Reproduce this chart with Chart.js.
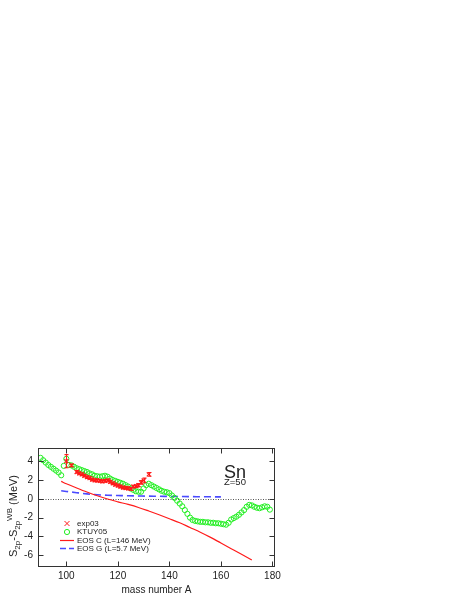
<!DOCTYPE html>
<html><head><meta charset="utf-8">
<style>html,body{margin:0;padding:0;background:#fff;}canvas{display:block;}</style>
<script src="https://cdn.jsdelivr.net/npm/chart.js@4"></script>
</head><body>
<canvas id="c" width="463" height="599"></canvas>
<script>
// ---- data ----
const xTicks = [100, 120, 140, 160, 180];
const yTicks = [-6, -4, -2, 0, 2, 4];
const seriesLabels = ['exp03', 'KTUY05', 'EOS C (L=146 MeV)', 'EOS G (L=5.7 MeV)'];

const ktuyA = [90,91,92,93,94,95,96,97,98,99,100,101,102,103,104,105,106,107,108,109,110,111,112,113,114,115,116,117,118,119,120,121,122,123,124,125,126,127,128,129,130,131,132,133,134,135,136,137,138,139,140,141,142,143,144,145,146,147,148,149,150,151,152,153,154,155,156,157,158,159,160,161,162,163,164,165,166,167,168,169,170,171,172,173,174,175,176,177,178,179];
const ktuyVal = [4.35,4.1,3.85,3.6,3.4,3.2,3.0,2.8,2.5,3.5,4.25,3.6,3.55,3.4,3.25,3.15,3.05,2.95,2.85,2.7,2.6,2.45,2.4,2.35,2.4,2.45,2.35,2.15,2.0,1.9,1.8,1.7,1.6,1.45,1.3,1.1,0.95,0.8,0.75,0.75,1.1,1.45,1.6,1.45,1.3,1.15,1.0,0.85,0.75,0.7,0.6,0.35,0.1,-0.2,-0.5,-0.8,-1.2,-1.6,-2.0,-2.25,-2.35,-2.4,-2.45,-2.45,-2.5,-2.5,-2.55,-2.55,-2.6,-2.6,-2.65,-2.7,-2.75,-2.55,-2.2,-2.05,-1.9,-1.7,-1.45,-1.2,-0.85,-0.65,-0.7,-0.85,-0.95,-1.0,-0.9,-0.8,-0.85,-1.15];

const expA   = [100,102,104,105,106,107,108,109,110,111,112,113,114,115,116,117,118,119,120,121,122,123,124,125,126,127,128,129,130,132];
const expVal = [4.0,3.55,2.85,2.7,2.6,2.45,2.3,2.2,2.05,1.95,1.95,1.9,1.85,1.9,1.95,1.8,1.65,1.5,1.4,1.3,1.2,1.15,1.1,1.05,1.3,1.35,1.45,1.75,1.95,2.6];
const expErr = [0.7,0.15,0.14,0.14,0.14,0.14,0.14,0.14,0.14,0.14,0.14,0.14,0.14,0.14,0.14,0.14,0.14,0.14,0.14,0.14,0.14,0.14,0.14,0.14,0.14,0.14,0.16,0.2,0.25,0.2];

const eosCA   = [98,100,104,108,112,116,120,124,128,132,136,140,144,148,152,156,160,164,168,172];
const eosCVal = [1.85,1.6,1.15,0.72,0.33,-0.02,-0.32,-0.6,-0.92,-1.3,-1.7,-2.12,-2.55,-3.05,-3.55,-4.1,-4.7,-5.3,-5.9,-6.5];

const eosGA   = [98,100,102,104,106,108,110,112,114,116,120,124,128,132,136,140,144,148,152,156,160];
const eosGVal = [0.85,0.78,0.72,0.65,0.58,0.52,0.47,0.43,0.4,0.38,0.35,0.32,0.3,0.28,0.27,0.25,0.24,0.23,0.22,0.21,0.2];

// ---- styles ----
const RED = '#ff1a1a', GREEN = '#22ee22', BLUE = '#4a4aff', INK = '#222';
const FONT = '"Liberation Sans", Arial, sans-serif';

const pts = (xs, ys) => xs.map((x, i) => ({x: x, y: ys[i]}));

const decor = {
  id: 'decor',
  beforeDatasetsDraw(chart) {
    const {ctx, chartArea: a, scales: {y}} = chart;
    const y0 = Math.round(y.getPixelForValue(0)) + 0.5;
    ctx.save();
    ctx.strokeStyle = '#555';
    ctx.lineWidth = 1;
    ctx.setLineDash([1, 1.5]);
    ctx.beginPath(); ctx.moveTo(a.left, y0); ctx.lineTo(a.right, y0); ctx.stroke();
    ctx.restore();
  },
  afterDatasetsDraw(chart) {
    const {ctx, chartArea: a, scales: {x, y}} = chart;
    ctx.save();
    ctx.beginPath(); ctx.rect(a.left, a.top, a.right - a.left, a.bottom - a.top); ctx.clip();
    ctx.strokeStyle = RED; ctx.lineWidth = 1.1;
    expA.forEach((A, i) => {
      const px = Math.round(x.getPixelForValue(A)) + 0.5;
      const y1 = y.getPixelForValue(expVal[i] + expErr[i]);
      const y2 = y.getPixelForValue(expVal[i] - expErr[i]);
      ctx.beginPath();
      ctx.moveTo(px, y1); ctx.lineTo(px, y2);
      ctx.moveTo(px - 2, y1); ctx.lineTo(px + 2, y1);
      ctx.moveTo(px - 2, y2); ctx.lineTo(px + 2, y2);
      ctx.stroke();
    });
    ctx.restore();
  },
  afterDraw(chart) {
    const {ctx, chartArea: a, scales: {x, y}} = chart;
    ctx.save();
    // frame
    ctx.strokeStyle = '#333'; ctx.lineWidth = 1;
    const L = Math.round(a.left) + 0.5, R = Math.round(a.right) - 0.5, T = Math.round(a.top) + 0.5, B = Math.round(a.bottom) - 0.5;
    ctx.strokeRect(L, T, R - L, B - T);
    // inward ticks
    ctx.beginPath();
    xTicks.forEach(v => {
      const px = Math.round(x.getPixelForValue(v)) + 0.5;
      ctx.moveTo(px, B); ctx.lineTo(px, B - 5);
      ctx.moveTo(px, T); ctx.lineTo(px, T + 5);
    });
    yTicks.forEach(v => {
      const py = Math.round(y.getPixelForValue(v)) + 0.5;
      ctx.moveTo(L, py); ctx.lineTo(L + 5, py);
      ctx.moveTo(R, py); ctx.lineTo(R - 5, py);
    });
    ctx.stroke();

    // element label
    ctx.fillStyle = INK;
    ctx.textAlign = 'left'; ctx.textBaseline = 'alphabetic';
    ctx.font = '18px ' + FONT;
    ctx.fillText('Sn', 224, 478);
    ctx.font = '9.5px ' + FONT;
    ctx.fillText('Z=50', 224, 485);

    // legend
    const lx = 60, ly = [523.5, 532, 540.5, 548.5];
    ctx.font = '8px ' + FONT;
    ctx.textBaseline = 'middle';
    seriesLabels.forEach((t, i) => { ctx.fillStyle = INK; ctx.fillText(t, 77, ly[i]); });
    ctx.lineWidth = 1;
    ctx.strokeStyle = RED;
    ctx.beginPath();
    ctx.moveTo(lx + 4.5, ly[0] - 2.5); ctx.lineTo(lx + 9.5, ly[0] + 2.5);
    ctx.moveTo(lx + 9.5, ly[0] - 2.5); ctx.lineTo(lx + 4.5, ly[0] + 2.5);
    ctx.stroke();
    ctx.strokeStyle = GREEN;
    ctx.beginPath(); ctx.arc(lx + 7, ly[1], 2.6, 0, Math.PI * 2); ctx.stroke();
    ctx.strokeStyle = RED; ctx.lineWidth = 1.2;
    ctx.beginPath(); ctx.moveTo(lx, ly[2]); ctx.lineTo(lx + 14, ly[2]); ctx.stroke();
    ctx.strokeStyle = BLUE; ctx.lineWidth = 1.6; ctx.setLineDash([6, 3]);
    ctx.beginPath(); ctx.moveTo(lx, ly[3]); ctx.lineTo(lx + 14, ly[3]); ctx.stroke();
    ctx.setLineDash([]);

    // y axis title with sub/superscripts
    const parts = [
      {t: 'S', s: 11, dy: 0},
      {t: '2p', s: 8, dy: 3},
      {t: '-S', s: 11, dy: 0},
      {t: '2p', s: 8, dy: 3},
      {t: 'WB', s: 8, dy: -5},
      {t: ' (MeV)', s: 11, dy: 0}
    ];
    let total = 0;
    parts.forEach(p => { ctx.font = p.s + 'px ' + FONT; p.w = ctx.measureText(p.t).width; total += p.w; });
    ctx.translate(17, 516);
    ctx.rotate(-Math.PI / 2);
    ctx.textBaseline = 'alphabetic';
    ctx.fillStyle = INK;
    let cx = -total / 2;
    parts.forEach(p => { ctx.font = p.s + 'px ' + FONT; ctx.fillText(p.t, cx, p.dy); cx += p.w; });
    ctx.restore();
  }
};

new Chart(document.getElementById('c'), {
  type: 'scatter',
  data: {
    datasets: [
      { label: seriesLabels[0], data: pts(expA, expVal), pointStyle: 'crossRot', pointRadius: 2.8,
        borderColor: RED, backgroundColor: RED, borderWidth: 1.2, showLine: false },
      { label: seriesLabels[1], data: pts(ktuyA, ktuyVal), pointStyle: 'circle', pointRadius: 2.6,
        borderColor: GREEN, backgroundColor: 'rgba(0,0,0,0)', borderWidth: 1, showLine: false },
      { label: seriesLabels[2], data: pts(eosCA, eosCVal), showLine: true, pointRadius: 0,
        borderColor: RED, borderWidth: 1.2, cubicInterpolationMode: 'monotone', fill: false },
      { label: seriesLabels[3], data: pts(eosGA, eosGVal), showLine: true, pointRadius: 0,
        borderColor: BLUE, borderWidth: 1.6, borderDash: [7, 4], cubicInterpolationMode: 'monotone', fill: false }
    ]
  },
  options: {
    responsive: false,
    animation: false,
    devicePixelRatio: 1,
    layout: { padding: { left: 0, right: 188, top: 448, bottom: 0 } },
    plugins: { legend: { display: false }, tooltip: { enabled: false } },
    scales: {
      x: {
        type: 'linear', min: 89, max: 181,
        grid: { display: false, drawTicks: false },
        border: { display: false },
        afterBuildTicks: s => { s.ticks = xTicks.map(v => ({value: v})); },
        afterFit: s => { s.height = 32; },
        ticks: { padding: 3, color: INK, font: { family: FONT, size: 10 }, maxRotation: 0, autoSkip: false },
        title: { display: true, text: 'mass number A', color: INK, font: { family: FONT, size: 10 }, padding: { top: 0, bottom: 3 } }
      },
      y: {
        type: 'linear', min: -7.25, max: 5.4,
        grid: { display: false, drawTicks: false },
        border: { display: false },
        afterBuildTicks: s => { s.ticks = yTicks.map(v => ({value: v})); },
        afterFit: s => { s.width = 38; },
        ticks: { padding: 5, color: INK, font: { family: FONT, size: 10 }, autoSkip: false }
      }
    }
  },
  plugins: [decor]
});
</script>
</body></html>
